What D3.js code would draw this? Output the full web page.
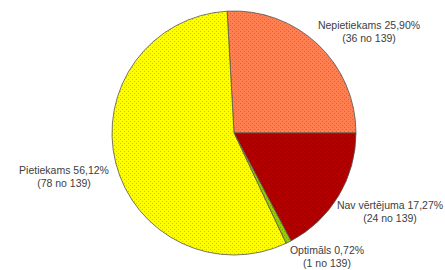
<!DOCTYPE html>
<html><head><meta charset="utf-8">
<script src="https://cdn.jsdelivr.net/npm/d3@7"></script>
<style>body{margin:0;background:#fff}svg{display:block}</style>
</head><body>
<svg id="c" width="445" height="270"></svg>
<script>
const categories = ["Nepietiekams", "Nav vērtējuma", "Optimāls", "Pietiekams"];
const counts = [36, 24, 1, 78];
const percentLabels = ["25,90%", "17,27%", "0,72%", "56,12%"];
const total = 139;
const colors = ["#FF7F50", "#B00000", "#99CC00", "#FFFF00"];
const dotColors = ["#D9603A", "#8A0000", "#6FA000", "#C8C800"];

const svg = d3.select("#c");
const cx = 234, cy = 133, r = 122;
const defs = svg.append("defs");
colors.forEach((c, i) => {
  const p = defs.append("pattern").attr("id", "p" + i).attr("patternUnits", "userSpaceOnUse")
    .attr("width", 4).attr("height", 4);
  p.append("rect").attr("width", 4).attr("height", 4).attr("fill", c);
  p.append("rect").attr("x", 0).attr("y", 0).attr("width", 1).attr("height", 1).attr("fill", dotColors[i]);
  p.append("rect").attr("x", 2).attr("y", 2).attr("width", 1).attr("height", 1).attr("fill", dotColors[i]);
});

const firstShare = counts[0] / total * 2 * Math.PI;
const startA = Math.PI / 2 - firstShare;
const pie = d3.pie().sort(null).value(d => d).startAngle(startA).endAngle(startA + 2 * Math.PI);
const arcs = pie(counts);
const arc = d3.arc().innerRadius(0).outerRadius(r);
const g = svg.append("g").attr("transform", `translate(${cx},${cy})`);
g.selectAll("path").data(arcs).join("path")
  .attr("d", arc).attr("fill", (d, i) => `url(#p${i})`)
  .attr("stroke", "#555").attr("stroke-width", 0.8);

const labelPos = [[369, 25], [390, 205], [327, 250], [64, 170]];
const lbl = svg.append("g").attr("font-family", "Liberation Sans, Arial, sans-serif")
  .attr("font-size", 10.5).attr("fill", "#404040").attr("text-anchor", "middle");
categories.forEach((c, i) => {
  const t = lbl.append("text").attr("x", labelPos[i][0]).attr("y", labelPos[i][1] + 4);
  t.append("tspan").attr("x", labelPos[i][0]).text(c + " " + percentLabels[i]);
  t.append("tspan").attr("x", labelPos[i][0]).attr("dy", 13).text(`(${counts[i]} no ${total})`);
});
</script>
</body></html>
